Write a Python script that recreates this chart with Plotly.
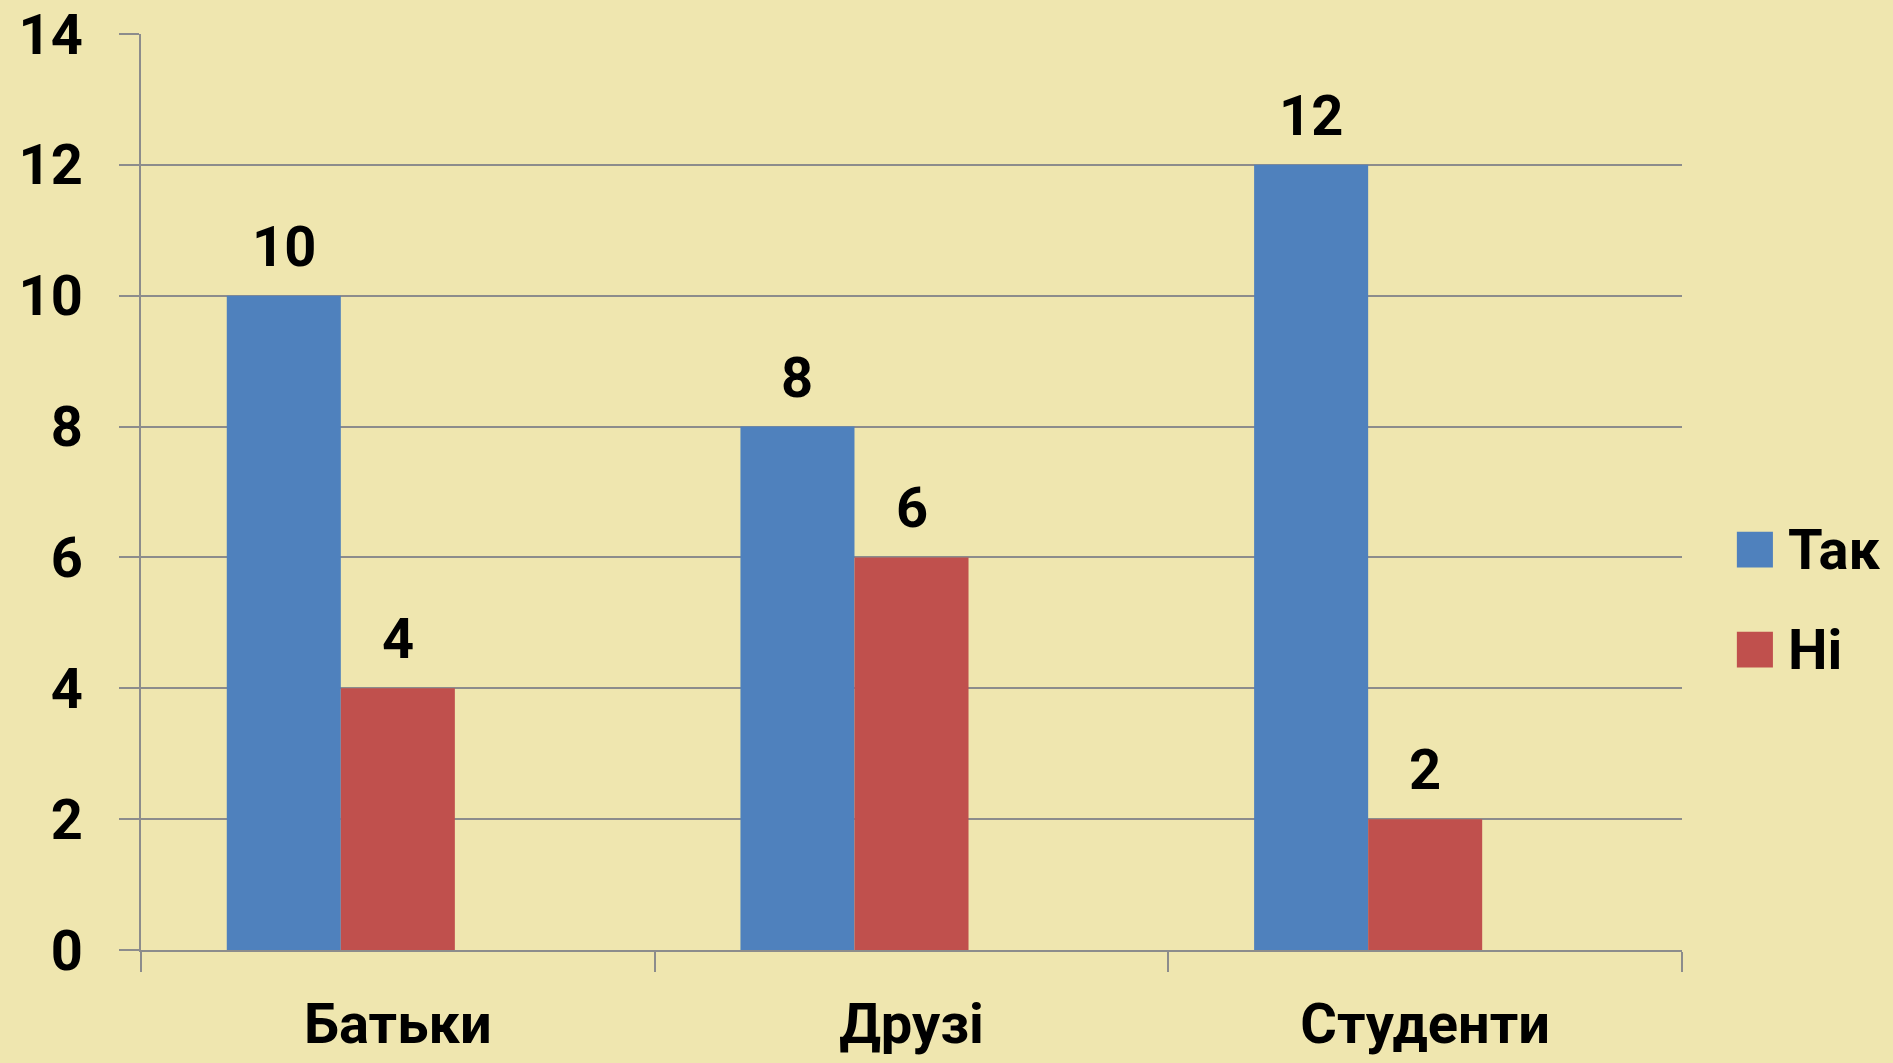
import plotly.graph_objects as go

categories = ["Батьки", "Друзі", "Студенти"]
series_names = ["Так", "Ні"]
values_tak = [10, 8, 12]
values_ni = [4, 6, 2]
y_ticks = [0, 2, 4, 6, 8, 10, 12, 14]

BG = "#EFE6AF"
BLUE = "#4F81BD"
RED = "#C0504D"
GRID = "#8C8C8C"
FONT = "Roboto, 'Open Sans', sans-serif"
FS = 56

idx = list(range(len(categories)))
W = 0.222
offsets = [-0.333, -0.111]
series = [values_tak, values_ni]
colors = [BLUE, RED]

fig = go.Figure()
for name, vals, col, off in zip(series_names, series, colors, offsets):
    fig.add_trace(go.Bar(
        x=categories, y=vals, name=name, marker=dict(color=col, line=dict(width=0)),
        width=W, offset=off, showlegend=False,
    ))
    for i, v in zip(idx, vals):
        fig.add_annotation(
            x=i + off + W / 2, y=v, xref="x", yref="y", text=str(v),
            showarrow=False, yanchor="bottom", yshift=14,
            font=dict(family=FONT, size=FS, color="black", weight="bold"),
        )

# custom legend (large squares as in the reference)
leg_y = [0.437, 0.328]
for name, col, ly in zip(series_names, colors, leg_y):
    fig.add_shape(type="rect", xref="paper", yref="paper",
                  x0=1.0356, x1=1.059, y0=ly - 0.0195, y1=ly + 0.0195,
                  fillcolor=col, line=dict(width=0))
    fig.add_annotation(xref="paper", yref="paper", x=1.0678, y=ly, text=name,
                       showarrow=False, xanchor="left", yanchor="middle",
                       font=dict(family=FONT, size=FS, color="black", weight="bold"))

fig.update_layout(
    width=1893, height=1063,
    paper_bgcolor=BG, plot_bgcolor=BG,
    margin=dict(l=141, r=211, t=34, b=113, autoexpand=False),
    barmode="overlay",
    showlegend=False,
    font=dict(family=FONT, size=FS, color="black"),
)
fig.update_xaxes(
    type="category", categoryorder="array", categoryarray=categories,
    range=[-0.5, 2.5], showline=True, linecolor=GRID, linewidth=2,
    ticks="outside", ticklen=20, tickwidth=2, tickcolor=GRID,
    tickson="boundaries", showgrid=False, zeroline=False, automargin=False,
    tickfont=dict(family=FONT, size=FS, color="black", weight="bold"),
    ticklabelstandoff=24,
)
fig.update_yaxes(
    range=[0, 14], tickvals=y_ticks, showline=True, linecolor=GRID, linewidth=2,
    ticks="outside", ticklen=20, tickwidth=2, tickcolor=GRID,
    showgrid=True, gridcolor=GRID, gridwidth=2, zeroline=False, automargin=False,
    tickfont=dict(family=FONT, size=FS, color="black", weight="bold"),
    ticklabelstandoff=25,
)

fig.write_html("out.html", config={"displayModeBar": False},
               post_script="document.body.style.margin='0';")
